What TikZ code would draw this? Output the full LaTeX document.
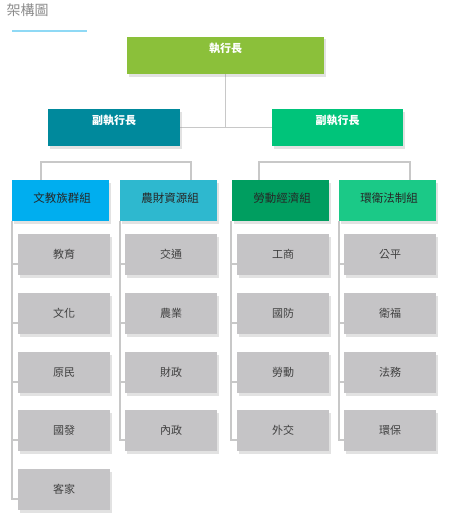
\documentclass[tikz,border=0pt]{standalone}
\usepackage{fontspec}
\setmainfont{Noto Sans CJK TC}
\usetikzlibrary{shadows,backgrounds,calc}
\definecolor{ceoc}{HTML}{8BC03A}
\definecolor{vplc}{HTML}{00899C}
\definecolor{vprc}{HTML}{00C47A}
\definecolor{gac}{HTML}{00AEEF}
\definecolor{gbc}{HTML}{2EB8CF}
\definecolor{gcc}{HTML}{009E60}
\definecolor{gdc}{HTML}{1BC987}
\definecolor{grayc}{HTML}{C5C4C6}
\definecolor{linec}{HTML}{C8C8C8}
\definecolor{titlec}{HTML}{8A8A8A}
\definecolor{ulc}{HTML}{8FD9F5}
\tikzset{
  boxbase/.style={rectangle, inner sep=0pt, outer sep=0pt, anchor=north west,
    drop shadow={shadow xshift=2pt, shadow yshift=-2.5pt, opacity=0.25, fill=black!45}},
  topbox/.style={boxbase, text=white, font=\fontsize{11}{11}\selectfont\bfseries,
    text height=8pt, text depth=14.4pt, minimum height=37pt},
  grpbox/.style={boxbase, text=black!85, font=\fontsize{11.5}{11.5}\selectfont,
    text height=8pt, text depth=4pt, minimum width=97pt, minimum height=41pt},
  kidbox/.style={boxbase, fill=grayc, text=black!75, font=\fontsize{11}{11}\selectfont,
    minimum width=92pt, minimum height=41pt},
  conn/.style={draw=linec, line width=1.4pt},
}
\begin{document}
\begin{tikzpicture}[x=1pt,y=1pt]
\useasboundingbox (0,0) rectangle (450,-519);
\node[anchor=west, text=titlec, font=\fontsize{14}{14}\selectfont, inner sep=0pt] (title) at (6.5,-10) {架構圖};
\draw[ulc, line width=2pt] (12,-31.5) -- (87,-31.5);

\node[topbox, fill=ceoc, minimum width=197pt] (ceo) at (127,-37) {執行長};
\node[topbox, fill=vplc, minimum width=132pt] (vpl) at (48,-109) {副執行長};
\node[topbox, fill=vprc, minimum width=131pt] (vpr) at (272,-109) {副執行長};

\node[grpbox, fill=gac] (g1) at (12,-180) {\hspace{3pt}文教族群組};
\node[grpbox, fill=gbc] (g2) at (120,-180) {\hspace{3pt}農財資源組};
\node[grpbox, fill=gcc] (g3) at (232,-180) {\hspace{3pt}勞動經濟組};
\node[grpbox, fill=gdc] (g4) at (339,-180) {\hspace{3pt}環衛法制組};

\node[kidbox] (c11) at (18,-234) {教育};
\node[kidbox] (c12) at (18,-293) {文化};
\node[kidbox] (c13) at (18,-352) {原民};
\node[kidbox] (c14) at (18,-410) {國發};
\node[kidbox] (c15) at (18,-469) {客家};

\node[kidbox] (c21) at (125,-234) {交通};
\node[kidbox] (c22) at (125,-293) {農業};
\node[kidbox] (c23) at (125,-352) {財政};
\node[kidbox] (c24) at (125,-410) {內政};

\node[kidbox] (c31) at (237,-234) {工商};
\node[kidbox] (c32) at (237,-293) {國防};
\node[kidbox] (c33) at (237,-352) {勞動};
\node[kidbox] (c34) at (237,-410) {外交};

\node[kidbox] (c41) at (344,-234) {公平};
\node[kidbox] (c42) at (344,-293) {衛福};
\node[kidbox] (c43) at (344,-352) {法務};
\node[kidbox] (c44) at (344,-410) {環保};

\coordinate (bl1) at (41,-162);
\coordinate (bl2) at (191,-162);
\coordinate (br1) at (259,-162);
\coordinate (br2) at (410,-162);

\foreach \c in {11,12,13,14,15,21,22,23,24,31,32,33,34,41,42,43,44}{
  \coordinate (s\c) at ($(c\c.south west)+(0,11)$);
}

\begin{scope}[on background layer]
\draw[conn] (ceo.south) -- (ceo.south |- vpl.east);
\draw[conn] (vpl.east) -- (vpr.west);
\draw[conn] (g1.north -| bl1) -- (bl1) -- (bl2) -- (g2.north -| bl2);
\draw[conn] (g3.north -| br1) -- (br1) -- (br2) -- (g4.north -| br2);
\draw[conn] (g1.south west) |- (s15);
\draw[conn] (g2.south west) |- (s24);
\draw[conn] ($(g3.south west)+(-1,0)$) |- (s34);
\draw[conn] (g4.south west) |- (s44);
\foreach \c/\g in {11/1,12/1,13/1,14/1,21/2,22/2,23/2,31/3,32/3,33/3,41/4,42/4,43/4}{
  \draw[conn] (g\g.west |- s\c) -- (s\c);
}
\end{scope}
\end{tikzpicture}
\end{document}
